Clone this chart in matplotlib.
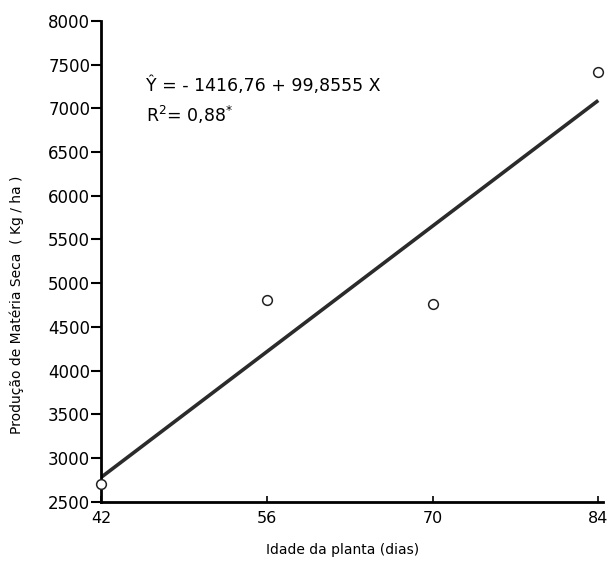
import matplotlib.pyplot as plt
import numpy as np

# ---------- Data ----------
idade = np.array([42, 56, 70, 84])  # idade da planta (dias)
producao = np.array([2700, 4810, 4760, 7420])  # kg/ha
reta_x = np.array([42, 84])  # reta de regressao como desenhada
reta_y = np.array([2780, 7090])
x_ticks = [42, 56, 70, 84]
y_ticks = [2500, 3000, 3500, 4000, 4500, 5000, 5500, 6000, 6500, 7000, 7500, 8000]

plt.rcParams['font.family'] = ['DejaVu Sans']

# ---------- Plot ----------
fig = plt.figure(figsize=(6.1, 5.65), dpi=100)
ax = fig.add_axes([0.166, 0.112, 0.8225, 0.851])

ax.plot(reta_x, reta_y, color='#2b2b2b', lw=2.6, solid_capstyle='butt')
ax.plot(idade, producao, 'o', mfc='white', mec='#222222', mew=1.1, ms=7, clip_on=False, zorder=3)

ax.set_xlim(42, 84.4)
ax.set_ylim(2500, 8000)
ax.set_xticks(x_ticks)
ax.set_yticks(y_ticks)
ax.tick_params(axis='y', direction='out', length=7, width=1.5, labelsize=12, pad=1)
ax.tick_params(axis='x', direction='in', length=4, width=1.2, labelsize=11.5, pad=7)

for s in ['top', 'right']:
    ax.spines[s].set_visible(False)
ax.spines['left'].set_linewidth(2)
ax.spines['bottom'].set_linewidth(2)

ax.set_xlabel("Idade da planta (dias)", fontsize=10)
ax.set_ylabel("Produção de Matéria Seca  ( Kg / ha )", fontsize=10)
ax.xaxis.set_label_coords(0.48, -0.085)
ax.yaxis.set_label_coords(-0.154, 0.41)

# equacao de regressao
ax.text(45.8, 7260, "Ŷ = - 1416,76 + 99,8555 X", fontsize=12.5, va='center', ha='left')
ax.text(45.8, 6920, "R$^2$= 0,88$^{*}$", fontsize=12.5, va='center', ha='left')

fig.savefig("out.png", dpi=100)
